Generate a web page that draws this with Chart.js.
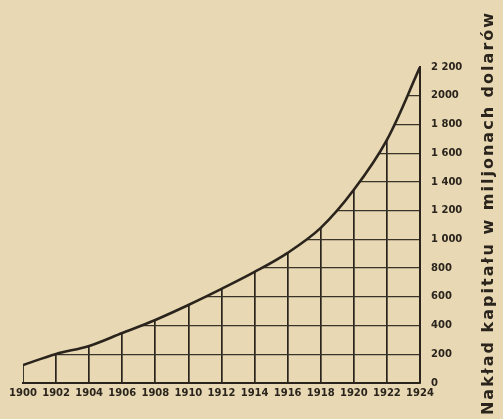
<!DOCTYPE html>
<html><head><meta charset="utf-8">
<script src="https://cdn.jsdelivr.net/npm/chart.js@4"></script>
<style>html,body{margin:0;padding:0;background:#e8d9b4;} #wrap{width:503px;height:419px;position:relative;}</style>
</head><body><div id="wrap"><canvas id="c"></canvas></div>
<script>
const years = [1900,1902,1904,1906,1908,1910,1912,1914,1916,1918,1920,1922,1924];
const capital = [125,202,258,348,439,543,655,773,906,1080,1345,1693,2200];
const yTickLabels = ['0','200','400','600','800','1 000','1 200','1 400','1 600','1 800','2000','2 200'];
const axisTitle = 'Nakład kapitału w miljonach dolarów';

const PAPER = '#e8d9b4';
const INK = '#2a241d';

const titlePlugin = {
  id: 'rotTitle',
  afterDraw(chart) {
    const ctx = chart.ctx;
    ctx.save();
    ctx.translate(489, 213);
    ctx.rotate(-Math.PI / 2);
    ctx.font = 'bold 16px "DejaVu Sans"';
    ctx.fillStyle = INK;
    ctx.textAlign = 'center';
    ctx.textBaseline = 'middle';
    const w = ctx.measureText(axisTitle).width;
    const target = 404;
    if ('letterSpacing' in ctx) {
      ctx.letterSpacing = ((target - w) / axisTitle.length).toFixed(2) + 'px';
    }
    ctx.fillText(axisTitle, 0, 0);
    ctx.restore();
  }
};

new Chart(document.getElementById('c'), {
  type: 'line',
  data: {
    datasets: [{
      data: years.map((y, i) => ({x: y, y: capital[i]})),
      borderColor: INK,
      borderWidth: 2.6,
      pointRadius: 0,
      tension: 0.35,
      fill: 'end',
      backgroundColor: PAPER
    }, {
      data: [{x: years[0], y: 0}, {x: years[0], y: capital[0]}],
      borderColor: INK,
      borderWidth: 1.8,
      pointRadius: 0,
      fill: false
    }]
  },
  options: {
    responsive: true,
    maintainAspectRatio: false,
    animation: false,
    layout: {padding: {left: 23, right: 28, top: 67, bottom: 0}},
    plugins: {legend: {display: false}, tooltip: {enabled: false}},
    scales: {
      x: {
        type: 'linear', min: 1900, max: 1924,
        afterFit(s) { s.height = 36; },
        grid: {
          color: ctx => (ctx.tick && ctx.tick.value === 1900) ? 'rgba(0,0,0,0)' : INK,
          lineWidth: 1.7, drawTicks: false
        },
        border: {display: true, color: INK, width: 2},
        ticks: {
          stepSize: 2, padding: 4, color: INK, maxRotation: 0, autoSkip: false,
          font: {family: 'DejaVu Sans', size: 10, weight: 'bold'},
          callback: v => String(v)
        }
      },
      y: {
        position: 'right', min: 0, max: 2200,
        afterFit(s) { s.width = 55; },
        grid: {
          color: ctx => (ctx.tick && ctx.tick.value === 2200) ? 'rgba(0,0,0,0)' : '#3a332a',
          lineWidth: 1.3, drawTicks: false
        },
        border: {display: true, color: INK, width: 2, z: 1},
        ticks: {
          stepSize: 200, padding: 11, color: INK,
          font: {family: 'DejaVu Sans', size: 10, weight: 'bold'},
          callback: (v, i) => yTickLabels[i]
        }
      }
    }
  },
  plugins: [titlePlugin]
});
</script>
</body></html>
